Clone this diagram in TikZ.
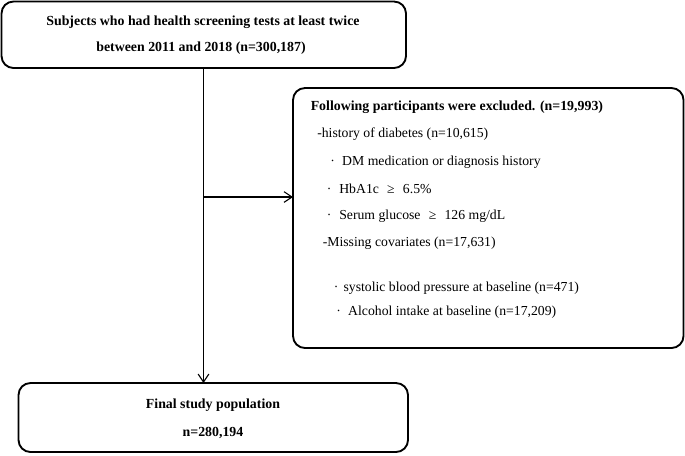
\documentclass[tikz,border=0pt]{standalone}
\usepackage{fontspec}
\setmainfont{Liberation Serif}
\usetikzlibrary{arrows.meta}
\begin{document}
\begin{tikzpicture}[x=0.75pt,y=-0.75pt,
  box/.style={draw,line width=1.4pt,rounded corners=9pt},
  txt/.style={inner sep=0pt,font=\fontsize{10.3pt}{12pt}\selectfont},
  btxt/.style={inner sep=0pt,font=\fontsize{10.4pt}{12pt}\selectfont\bfseries},
  arr/.style={line width=0.8pt,-{Straight Barb[length=6pt,width=8pt,line width=0.8pt]}}]
\useasboundingbox (0,0) rectangle (685,455);
\draw[box] (1.5,1.5) rectangle (406,68);
\node[btxt] (t1) at (203,22) {Subjects who had health screening tests at least twice};
\node[btxt] (t2) at (201,48) {between 2011 and 2018 (n=300,187)};
\coordinate (top) at (203.5,68);
\coordinate (mid) at (203.5,197);
\draw[box] (293,88) rectangle (683.5,348);
\coordinate (rl) at (293,197);
\node[btxt,anchor=west] (r0) at (310.5,107) {Following participants were excluded. (n=19,993)};
\node[txt,anchor=west] (r1) at (317,134) {-history of diabetes (n=10,615)};
\node[txt,anchor=west] (r2) at (330,162) {·\hspace{0.54em}DM medication or diagnosis history};
\node[txt,anchor=west] (r3) at (326.5,189) {·\hspace{0.58em}HbA1c\hspace{0.6em}≥\hspace{0.6em}6.5\%};
\node[txt,anchor=west] (r4) at (326.5,216) {·\hspace{0.58em}Serum glucose\hspace{0.6em}≥\hspace{0.6em}126 mg/dL};
\node[txt,anchor=west] (r5) at (322.5,243) {-Missing covariates (n=17,631)};
\node[txt,anchor=west] (r6) at (333.5,288) {·\hspace{0.38em}systolic blood pressure at baseline (n=471)};
\node[txt,anchor=west] (r7) at (336,312) {·\hspace{0.54em}Alcohol intake at baseline (n=17,209)};
\draw[box] (18.5,383) rectangle (408,452);
\coordinate (bot) at (203.5,383);
\node[btxt] (b1) at (213,405) {Final study population};
\node[btxt] (b2) at (213,433) {n=280,194};
\draw[arr] (top) -- (bot);
\draw[arr] (mid) -- (rl);
\end{tikzpicture}
\end{document}
